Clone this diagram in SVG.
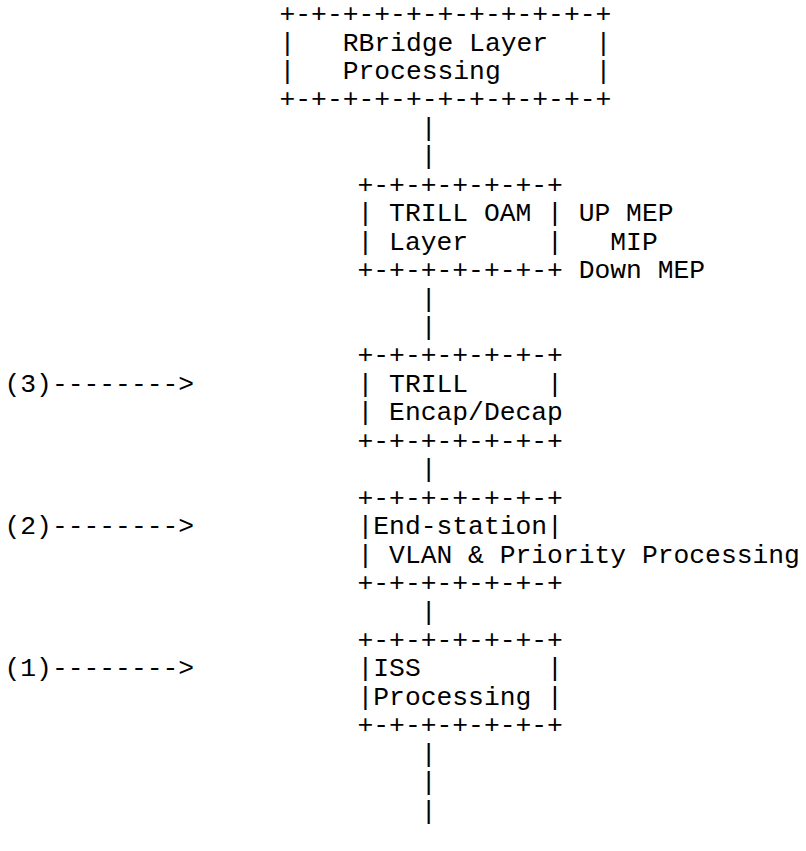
<svg xmlns="http://www.w3.org/2000/svg" width="806" height="851" viewBox="0 0 806 851">
<style>
text { font-family: "Liberation Mono", "Courier New", monospace; font-size: 26.33px; fill: #000; white-space: pre; }
</style>
<rect width="806" height="851" fill="#fff"/>
<g id="rbridge">
<text x="279.5" y="22.05" xml:space="preserve">+-+-+-+-+-+-+-+-+-+-+</text>
<text x="279.5" y="50.5" xml:space="preserve">|   RBridge Layer   |</text>
<text x="279.5" y="78.95" xml:space="preserve">|   Processing      |</text>
<text x="279.5" y="107.4" xml:space="preserve">+-+-+-+-+-+-+-+-+-+-+</text>
</g>
<g id="oam">
<text x="357.5" y="192.75" xml:space="preserve">+-+-+-+-+-+-+</text>
<text x="357.5" y="221.2" xml:space="preserve">| TRILL OAM |</text>
<text x="357.5" y="249.65" xml:space="preserve">| Layer     |</text>
<text x="357.5" y="278.1" xml:space="preserve">+-+-+-+-+-+-+</text>
<text x="578.7" y="221.2">UP MEP</text>
<text x="610.3" y="249.65">MIP</text>
<text x="578.7" y="278.1">Down MEP</text>
</g>
<g id="encap">
<text x="357.5" y="363.45" xml:space="preserve">+-+-+-+-+-+-+</text>
<text x="357.5" y="391.9" xml:space="preserve">| TRILL     |</text>
<text x="357.5" y="420.35" xml:space="preserve">| Encap/Decap</text>
<text x="357.5" y="448.8" xml:space="preserve">+-+-+-+-+-+-+</text>
</g>
<g id="endstation">
<text x="357.5" y="505.7" xml:space="preserve">+-+-+-+-+-+-+</text>
<text x="357.5" y="534.15" xml:space="preserve">|End-station|</text>
<text x="357.5" y="562.6" xml:space="preserve">| VLAN &amp; Priority Processing</text>
<text x="357.5" y="591.05" xml:space="preserve">+-+-+-+-+-+-+</text>
</g>
<g id="iss">
<text x="357.5" y="647.95" xml:space="preserve">+-+-+-+-+-+-+</text>
<text x="357.5" y="676.4" xml:space="preserve">|ISS        |</text>
<text x="357.5" y="704.85" xml:space="preserve">|Processing |</text>
<text x="357.5" y="733.3" xml:space="preserve">+-+-+-+-+-+-+</text>
</g>
<g id="connectors">
<text x="420.7" y="135.85">|</text>
<text x="420.7" y="164.3">|</text>
<text x="420.7" y="306.55">|</text>
<text x="420.7" y="335.0">|</text>
<text x="420.7" y="477.25">|</text>
<text x="420.7" y="619.5">|</text>
<text x="420.7" y="761.75">|</text>
<text x="420.7" y="790.2">|</text>
<text x="420.7" y="818.65">|</text>
<text x="4.5" y="391.9">(3)--------&gt;</text>
<text x="4.5" y="534.15">(2)--------&gt;</text>
<text x="4.5" y="676.4">(1)--------&gt;</text>
</g>
</svg>
